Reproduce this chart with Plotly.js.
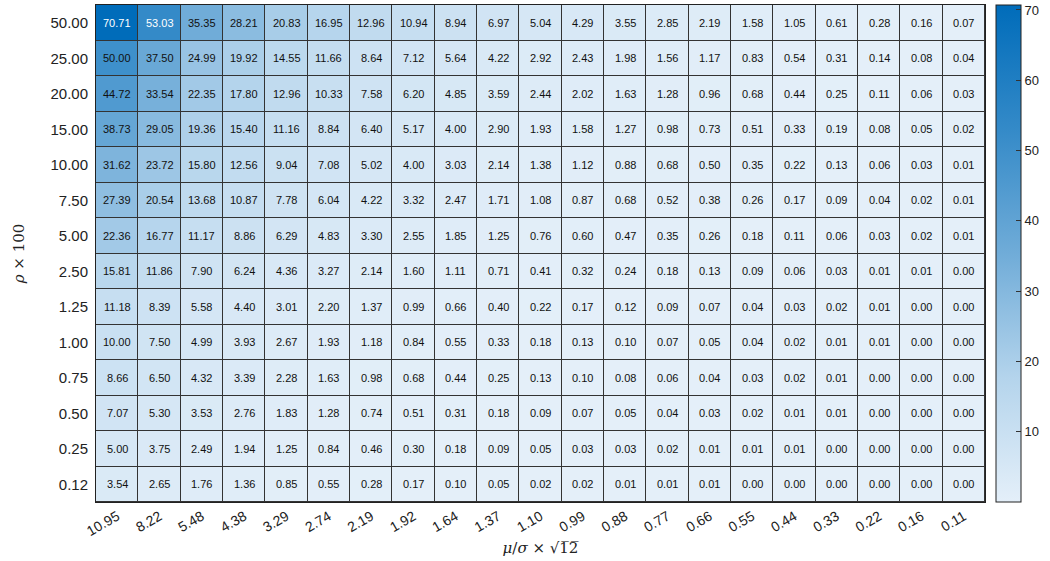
<!DOCTYPE html>
<html>
<head>
<meta charset="utf-8">
<script src="https://cdn.plot.ly/plotly-3.0.1.min.js"></script>
<style>html,body{margin:0;padding:0;background:#fff;}#chart{width:1050px;height:561px;}</style>
</head>
<body>
<div id="chart"></div>
<script>
// x categories: mu/sigma * sqrt(12)
const xLabels = ['10.95','8.22','5.48','4.38','3.29','2.74','2.19','1.92','1.64','1.37','1.10','0.99','0.88','0.77','0.66','0.55','0.44','0.33','0.22','0.16','0.11'];
// y categories: rho * 100 (bottom to top)
const yLabels = ['0.12','0.25','0.50','0.75','1.00','1.25','2.50','5.00','7.50','10.00','15.00','20.00','25.00','50.00'];

// rows listed bottom to top, matching yLabels
const row_0_12 = [3.54,2.65,1.76,1.36,0.85,0.55,0.28,0.17,0.10,0.05,0.02,0.02,0.01,0.01,0.01,0.00,0.00,0.00,0.00,0.00,0.00];
const row_0_25 = [5.00,3.75,2.49,1.94,1.25,0.84,0.46,0.30,0.18,0.09,0.05,0.03,0.03,0.02,0.01,0.01,0.01,0.00,0.00,0.00,0.00];
const row_0_50 = [7.07,5.30,3.53,2.76,1.83,1.28,0.74,0.51,0.31,0.18,0.09,0.07,0.05,0.04,0.03,0.02,0.01,0.01,0.00,0.00,0.00];
const row_0_75 = [8.66,6.50,4.32,3.39,2.28,1.63,0.98,0.68,0.44,0.25,0.13,0.10,0.08,0.06,0.04,0.03,0.02,0.01,0.00,0.00,0.00];
const row_1_00 = [10.00,7.50,4.99,3.93,2.67,1.93,1.18,0.84,0.55,0.33,0.18,0.13,0.10,0.07,0.05,0.04,0.02,0.01,0.01,0.00,0.00];
const row_1_25 = [11.18,8.39,5.58,4.40,3.01,2.20,1.37,0.99,0.66,0.40,0.22,0.17,0.12,0.09,0.07,0.04,0.03,0.02,0.01,0.00,0.00];
const row_2_50 = [15.81,11.86,7.90,6.24,4.36,3.27,2.14,1.60,1.11,0.71,0.41,0.32,0.24,0.18,0.13,0.09,0.06,0.03,0.01,0.01,0.00];
const row_5_00 = [22.36,16.77,11.17,8.86,6.29,4.83,3.30,2.55,1.85,1.25,0.76,0.60,0.47,0.35,0.26,0.18,0.11,0.06,0.03,0.02,0.01];
const row_7_50 = [27.39,20.54,13.68,10.87,7.78,6.04,4.22,3.32,2.47,1.71,1.08,0.87,0.68,0.52,0.38,0.26,0.17,0.09,0.04,0.02,0.01];
const row_10_00 = [31.62,23.72,15.80,12.56,9.04,7.08,5.02,4.00,3.03,2.14,1.38,1.12,0.88,0.68,0.50,0.35,0.22,0.13,0.06,0.03,0.01];
const row_15_00 = [38.73,29.05,19.36,15.40,11.16,8.84,6.40,5.17,4.00,2.90,1.93,1.58,1.27,0.98,0.73,0.51,0.33,0.19,0.08,0.05,0.02];
const row_20_00 = [44.72,33.54,22.35,17.80,12.96,10.33,7.58,6.20,4.85,3.59,2.44,2.02,1.63,1.28,0.96,0.68,0.44,0.25,0.11,0.06,0.03];
const row_25_00 = [50.00,37.50,24.99,19.92,14.55,11.66,8.64,7.12,5.64,4.22,2.92,2.43,1.98,1.56,1.17,0.83,0.54,0.31,0.14,0.08,0.04];
const row_50_00 = [70.71,53.03,35.35,28.21,20.83,16.95,12.96,10.94,8.94,6.97,5.04,4.29,3.55,2.85,2.19,1.58,1.05,0.61,0.28,0.16,0.07];

const colorbarTicks = [10,20,30,40,50,60,70];

const z = [row_0_12,row_0_25,row_0_50,row_0_75,row_1_00,row_1_25,row_2_50,row_5_00,row_7_50,row_10_00,row_15_00,row_20_00,row_25_00,row_50_00];

// cell labels placed by category index on the category axes
const annotations = [];
z.forEach((row, i) => {
  row.forEach((v, j) => {
    annotations.push({
      x: j, y: i, xref: 'x', yref: 'y',
      text: v.toFixed(2), showarrow: false,
      font: {family: 'Liberation Sans, Arial, sans-serif', size: 11, color: v > 52 ? '#ffffff' : '#111111'}
    });
  });
});

const trace = {
  type: 'heatmap',
  x: xLabels,
  y: yLabels,
  z: z,
  zmin: 0,
  zmax: 70.71,
  xgap: 1,
  ygap: 1,
  colorscale: [
    [0, 'rgb(228,239,249)'],
    [0.25, 'rgb(180,212,236)'],
    [0.5, 'rgb(112,172,216)'],
    [0.75, 'rgb(52,138,200)'],
    [1, 'rgb(0,108,186)']
  ],
  hoverinfo: 'skip',
  colorbar: {
    x: 1.012, xanchor: 'left', xpad: 0,
    y: 0.5, yanchor: 'middle', len: 1, ypad: 0,
    thickness: 25,
    outlinecolor: '#222', outlinewidth: 1,
    tickvals: colorbarTicks,
    ticks: 'inside', ticklen: 5, tickcolor: '#333',
    tickfont: {family: 'Liberation Sans, Arial, sans-serif', size: 13, color: '#222'}
  }
};

const layout = {
  width: 1050, height: 561,
  margin: {l: 96, r: 65, t: 5, b: 59},
  paper_bgcolor: '#ffffff',
  plot_bgcolor: '#333333',
  font: {family: 'Liberation Sans, Arial, sans-serif', color: '#222'},
  xaxis: {
    type: 'category',
    tickangle: -30,
    tickfont: {size: 14, color: '#222'},
    ticks: '', showgrid: false, zeroline: false,
    showline: true, linecolor: '#222', linewidth: 1, mirror: true,
    title: {text: '<i>μ</i>/<i>σ</i> × √1̅2̅', font: {family: 'DejaVu Serif, serif', size: 15, color: '#222'}, standoff: 4}
  },
  yaxis: {
    type: 'category',
    tickfont: {size: 15, color: '#222'},
    ticks: '', showgrid: false, zeroline: false,
    showline: true, linecolor: '#222', linewidth: 1, mirror: true,
    ticklabelstandoff: 4,
    title: {text: '<i>ρ</i> × 100', font: {family: 'DejaVu Serif, serif', size: 15, color: '#222'}, standoff: 22}
  },
  annotations: annotations
};

Plotly.newPlot('chart', [trace], layout, {displayModeBar: false, staticPlot: true});
</script>
</body>
</html>
